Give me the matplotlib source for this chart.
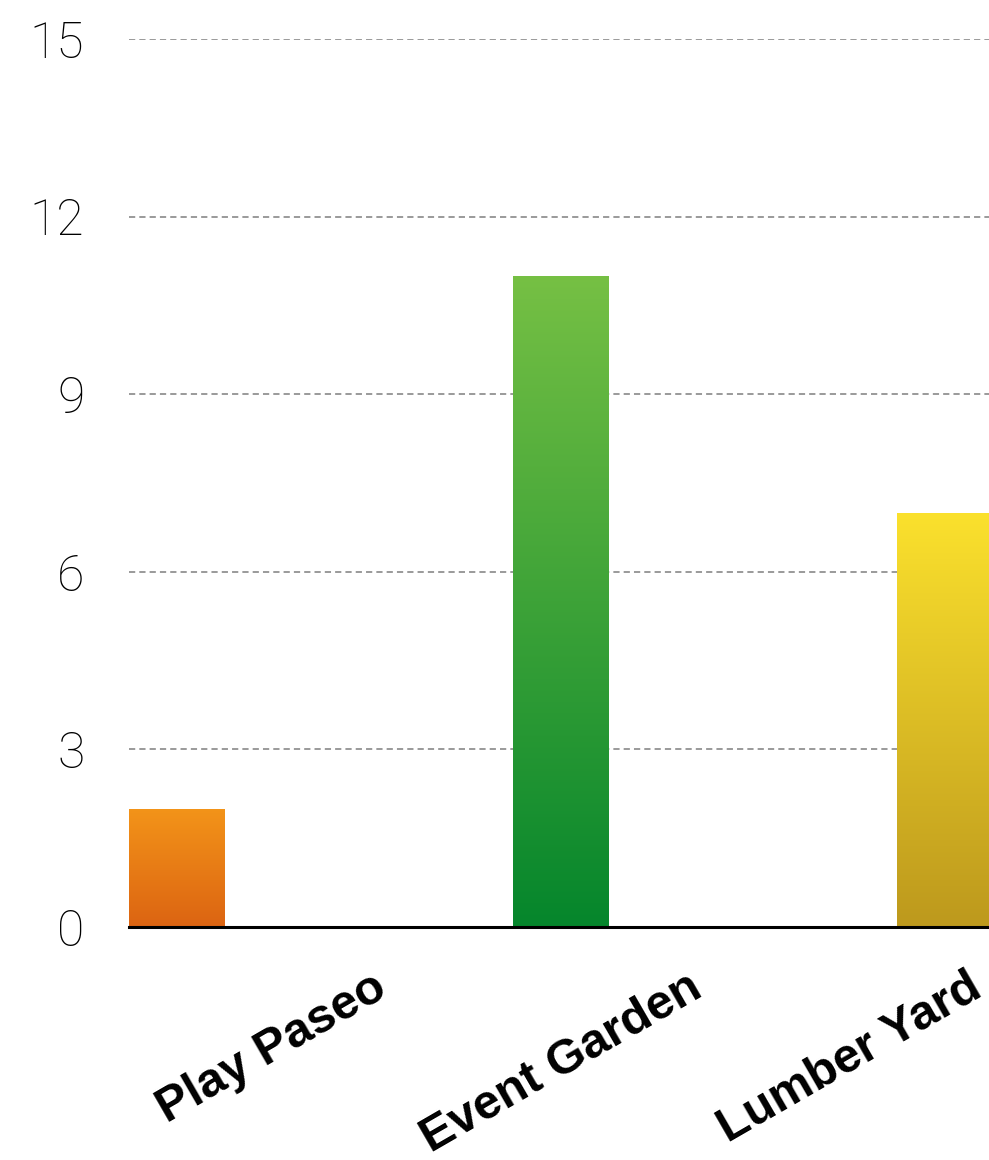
import matplotlib
matplotlib.use("Agg")
import matplotlib.pyplot as plt
import numpy as np
from matplotlib.colors import LinearSegmentedColormap

# Data
categories = ["Play Paseo", "Event Garden", "Lumber Yard"]
values = [2, 11, 7]
y_ticks = [0, 3, 6, 9, 12, 15]
# gradient colours per bar (top, bottom)
gradients = [("#F39419", "#DC6412"), ("#76C044", "#05862C"), ("#FBE12D", "#BD991D")]

W, H = 989, 1160
fig = plt.figure(figsize=(W / 100, H / 100), dpi=100)
ax = fig.add_axes([129 / W, (H - 927) / H, 1 - 129 / W, (927 - 39) / H])

x = np.arange(len(categories))
bar_w = 0.25
bars = ax.bar(x, values, width=bar_w, align="edge", color="none", zorder=2)

# vertical gradient fill for each bar
grad = np.linspace(0, 1, 256).reshape(-1, 1)
for patch, (top, bottom) in zip(bars, gradients):
    cmap = LinearSegmentedColormap.from_list("g", [bottom, top])
    x0, y0 = patch.get_x(), patch.get_y()
    im = ax.imshow(grad, extent=(x0, x0 + patch.get_width(), y0, y0 + patch.get_height()),
                   origin="lower", aspect="auto", cmap=cmap, zorder=2, interpolation="bilinear")
    im.set_clip_path(patch)

ax.set_xlim(0, 860 / 384)
ax.set_ylim(0, 15)

# axis styling
for s in ax.spines.values():
    s.set_visible(False)
ax.axhline(0, color="black", lw=2.2, zorder=3, clip_on=False)
ax.set_yticks(y_ticks)
ax.set_yticklabels([str(v) for v in y_ticks], fontsize=36, fontfamily="Roboto", fontweight="light")
ax.yaxis.grid(True, color="#9a9a9a", lw=1.4, linestyle=(0, (3.2, 2.1)), zorder=1)
ax.set_axisbelow(True)
ax.tick_params(axis="y", length=0, pad=32)

# category labels
label_pos = [0.372, 1.125, 1.878]
ax.set_xticks(label_pos)
ax.set_xticklabels(categories, fontsize=35, fontfamily="Liberation Sans", fontweight="bold",
                   rotation=30, ha="center", va="top")
ax.tick_params(axis="x", length=0, pad=27)

fig.savefig("out.png", dpi=100)
